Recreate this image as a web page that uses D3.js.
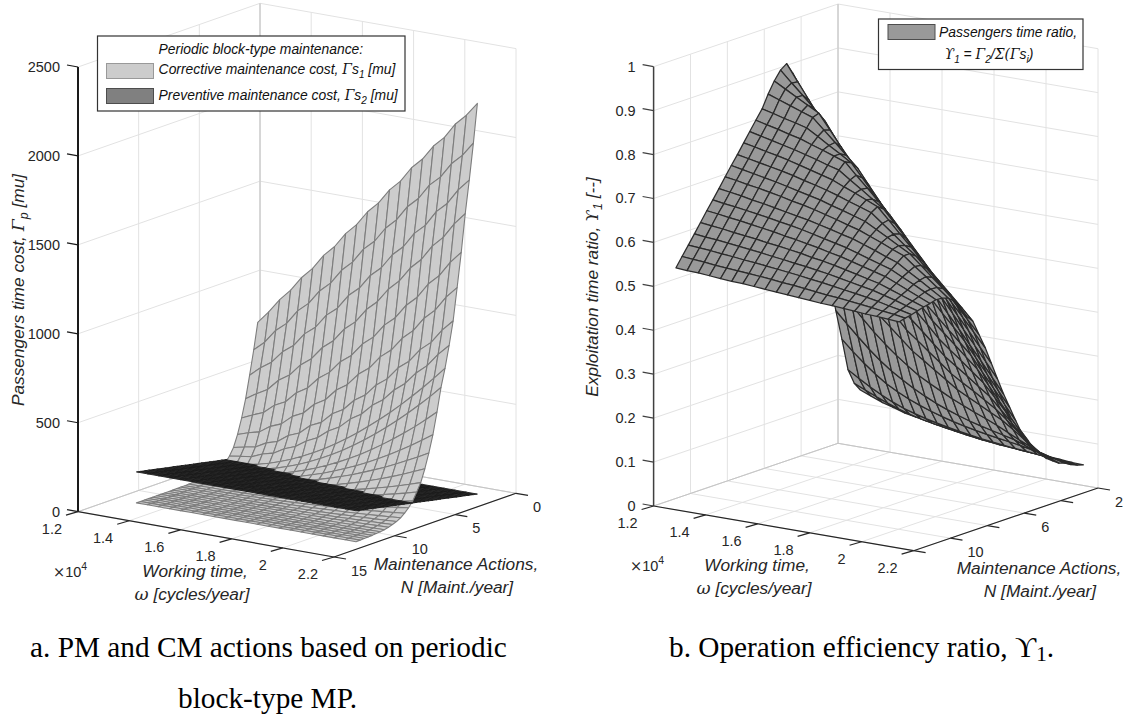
<!DOCTYPE html>
<html>
<head>
<meta charset="utf-8">
<script src="https://cdn.jsdelivr.net/npm/d3@7"></script>
<style>
    html, body {margin: 0; background: #fff;}
    text {font-family: "Liberation Sans", Arial, sans-serif; fill: #262626;}
    .caption {font-family: "Liberation Serif", serif; fill: #000;}
</style>
</head>
<body>
<svg id="chart" width="1123" height="714"></svg>
<script>
// working time samples [cycles/year] and maintenance actions [maint./year]
const workingTime = [12860, 13289, 13718, 14147, 14576, 15005, 15434, 15863, 16292, 16721, 17150, 17579, 18008, 18437, 18866, 19295, 19724, 20153, 20582, 21011, 21440];
const maintActions = [2, 2.33, 2.67, 3, 3.33, 3.67, 4, 4.33, 4.67, 5, 5.33, 5.67, 6, 6.33, 6.67, 7, 7.33, 7.67, 8, 8.33, 8.67, 9, 9.33, 9.67, 10, 10.33, 10.67, 11, 11.33, 11.67, 12];

// preventive cost only depends on N
const preventiveCost = [29, 34, 39, 44, 48, 53, 58, 63, 68, 73, 77, 82, 87, 92, 97, 102, 106, 111, 116, 121, 126, 131, 135, 140, 145, 150, 155, 160, 164, 169, 174];

// corrective cost [mu], one row per N, one column per working time
const correctiveCost = [
    [776, 846, 926, 990, 1072, 1134, 1218, 1279, 1362, 1424, 1507, 1568, 1652, 1712, 1798, 1858, 1942, 2002, 2088, 2148, 2226],
    [630, 683, 760, 811, 892, 945, 1026, 1081, 1164, 1221, 1305, 1360, 1444, 1502, 1587, 1644, 1730, 1786, 1872, 1930, 2010],
    [495, 548, 590, 659, 705, 782, 830, 909, 959, 1041, 1094, 1176, 1230, 1314, 1370, 1456, 1512, 1600, 1657, 1744, 1810],
    [370, 410, 444, 507, 547, 615, 661, 735, 784, 861, 912, 992, 1047, 1128, 1186, 1269, 1328, 1414, 1474, 1561, 1630],
    [270, 298, 323, 375, 405, 467, 504, 570, 614, 685, 731, 806, 856, 934, 987, 1068, 1124, 1209, 1267, 1352, 1420],
    [185, 206, 222, 264, 289, 342, 372, 432, 468, 534, 575, 644, 690, 764, 813, 890, 944, 1025, 1081, 1165, 1230],
    [120, 134, 145, 179, 198, 242, 267, 320, 349, 408, 443, 506, 546, 614, 659, 732, 780, 856, 908, 988, 1050],
    [80, 90, 98, 124, 140, 176, 199, 241, 270, 319, 352, 408, 446, 507, 550, 615, 663, 733, 785, 859, 920],
    [50, 53, 62, 75, 91, 112, 136, 163, 194, 228, 265, 306, 349, 396, 445, 497, 552, 610, 670, 734, 800],
    [35, 37, 43, 53, 66, 83, 103, 125, 151, 181, 213, 248, 287, 328, 373, 420, 471, 524, 580, 638, 700],
    [25, 26, 30, 37, 47, 59, 74, 92, 112, 135, 161, 190, 221, 255, 292, 332, 374, 419, 466, 517, 570],
    [17, 18, 21, 27, 34, 44, 56, 70, 86, 105, 125, 148, 173, 200, 229, 261, 294, 330, 368, 408, 450],
    [12, 13, 15, 20, 26, 34, 43, 54, 67, 82, 98, 116, 136, 157, 181, 206, 232, 261, 291, 322, 356],
    [8, 9, 10, 13, 17, 22, 29, 37, 47, 58, 70, 84, 99, 116, 134, 154, 175, 198, 222, 248, 275],
    [6, 6, 8, 10, 13, 17, 22, 28, 35, 43, 52, 63, 74, 87, 100, 115, 131, 148, 166, 185, 205],
    [4, 4, 5, 6, 9, 11, 15, 19, 25, 31, 38, 46, 55, 65, 75, 87, 99, 113, 128, 143, 160],
    [3, 3, 4, 5, 6, 8, 11, 14, 18, 23, 28, 34, 41, 48, 56, 64, 74, 83, 94, 105, 118],
    [2, 2, 3, 3, 5, 6, 8, 11, 13, 17, 21, 25, 30, 36, 42, 48, 55, 62, 70, 79, 88],
    [1, 1, 1, 2, 3, 4, 6, 8, 10, 12, 15, 18, 22, 26, 30, 35, 40, 46, 52, 58, 65],
    [1, 1, 1, 2, 2, 3, 4, 6, 7, 9, 11, 13, 16, 19, 22, 25, 29, 33, 37, 42, 47],
    [1, 1, 1, 1, 2, 2, 3, 4, 5, 6, 8, 9, 11, 13, 15, 18, 21, 24, 27, 30, 34],
    [0, 0, 0, 0, 1, 1, 2, 2, 3, 4, 5, 7, 8, 9, 11, 13, 15, 17, 20, 22, 25],
    [0, 0, 0, 0, 0, 1, 1, 2, 2, 3, 4, 5, 6, 7, 8, 9, 11, 12, 14, 16, 18],
    [0, 0, 0, 0, 0, 0, 1, 1, 1, 2, 2, 3, 4, 4, 5, 6, 7, 8, 9, 11, 12],
    [0, 0, 0, 0, 0, 0, 0, 1, 1, 1, 2, 2, 3, 3, 4, 4, 5, 5, 6, 7, 8],
    [0, 0, 0, 0, 0, 0, 0, 0, 1, 1, 1, 2, 2, 2, 3, 3, 4, 4, 5, 5, 6],
    [0, 0, 0, 0, 0, 0, 0, 0, 0, 1, 1, 1, 1, 2, 2, 2, 3, 3, 3, 4, 4],
    [0, 0, 0, 0, 0, 0, 0, 0, 0, 0, 1, 1, 1, 1, 1, 2, 2, 2, 2, 3, 3],
    [0, 0, 0, 0, 0, 0, 0, 0, 0, 0, 0, 0, 1, 1, 1, 1, 1, 1, 1, 2, 2],
    [0, 0, 0, 0, 0, 0, 0, 0, 0, 0, 0, 0, 0, 0, 0, 1, 1, 1, 1, 1, 1],
    [0, 0, 0, 0, 0, 0, 0, 0, 0, 0, 0, 0, 0, 0, 0, 0, 0, 0, 0, 0, 0]
];

// exploitation time ratio in thousandths, same row/column layout
const timeRatio = [
    [130, 120, 110, 103, 95, 90, 85, 80, 76, 72, 68, 64, 62, 60, 58, 56, 54, 52, 50, 48, 47],
    [150, 139, 128, 118, 109, 101, 95, 90, 85, 81, 77, 73, 70, 67, 65, 63, 61, 59, 57, 54, 51],
    [186, 170, 155, 142, 130, 120, 112, 105, 99, 94, 89, 85, 81, 78, 75, 72, 70, 67, 64, 60, 57],
    [260, 236, 214, 194, 176, 162, 150, 140, 131, 123, 116, 110, 105, 100, 96, 92, 88, 83, 78, 71, 65],
    [330, 304, 279, 255, 233, 214, 198, 183, 170, 158, 148, 139, 131, 124, 118, 112, 106, 97, 88, 79, 70],
    [410, 383, 356, 329, 303, 280, 259, 240, 222, 208, 195, 182, 171, 160, 150, 139, 127, 115, 104, 92, 80],
    [506, 473, 440, 407, 374, 351, 328, 305, 282, 265, 247, 230, 212, 199, 186, 173, 160, 143, 125, 108, 90],
    [600, 561, 523, 484, 445, 418, 390, 363, 335, 315, 294, 274, 253, 237, 222, 206, 190, 169, 147, 126, 104],
    [700, 655, 610, 564, 519, 487, 456, 424, 392, 368, 345, 321, 297, 279, 261, 242, 224, 198, 172, 146, 120],
    [786, 737, 688, 639, 590, 555, 519, 484, 448, 422, 395, 369, 342, 321, 301, 280, 259, 231, 202, 174, 145],
    [856, 809, 761, 714, 667, 626, 585, 543, 502, 473, 445, 416, 387, 364, 341, 318, 295, 263, 230, 198, 165],
    [904, 861, 819, 776, 733, 691, 648, 606, 563, 530, 496, 463, 429, 405, 380, 356, 331, 298, 266, 233, 200],
    [930, 893, 856, 819, 782, 742, 702, 661, 621, 585, 549, 513, 477, 450, 422, 395, 367, 334, 301, 268, 235],
    [920, 895, 871, 846, 821, 783, 745, 707, 669, 633, 597, 560, 524, 493, 463, 432, 401, 368, 336, 303, 270],
    [900, 886, 872, 858, 844, 810, 776, 743, 709, 674, 638, 603, 567, 536, 504, 473, 441, 408, 376, 343, 310],
    [875, 866, 857, 848, 839, 815, 791, 766, 742, 708, 674, 639, 605, 573, 541, 509, 477, 445, 414, 382, 350],
    [846, 840, 833, 827, 820, 805, 789, 774, 758, 728, 697, 667, 636, 605, 573, 542, 510, 480, 450, 420, 390],
    [825, 819, 813, 806, 800, 791, 783, 774, 765, 739, 714, 688, 662, 632, 601, 571, 540, 511, 483, 454, 425],
    [804, 798, 792, 786, 780, 773, 766, 758, 751, 733, 716, 698, 680, 651, 622, 592, 563, 537, 512, 486, 460],
    [783, 778, 772, 767, 761, 754, 747, 740, 733, 722, 712, 701, 690, 664, 637, 611, 584, 557, 530, 502, 475],
    [761, 756, 751, 746, 741, 735, 728, 722, 715, 707, 698, 690, 681, 661, 641, 620, 600, 575, 550, 525, 500],
    [741, 736, 731, 726, 721, 715, 709, 703, 697, 689, 682, 674, 666, 652, 638, 624, 610, 588, 565, 543, 520],
    [720, 716, 711, 707, 702, 697, 691, 686, 680, 673, 666, 658, 651, 641, 631, 620, 610, 590, 571, 551, 531],
    [698, 694, 690, 685, 681, 676, 671, 666, 661, 655, 649, 642, 636, 627, 618, 608, 599, 583, 568, 552, 536],
    [677, 673, 670, 666, 662, 658, 653, 649, 644, 638, 632, 626, 620, 612, 604, 596, 588, 575, 563, 550, 537],
    [657, 654, 650, 647, 643, 639, 635, 630, 626, 621, 616, 610, 605, 598, 591, 584, 577, 566, 555, 544, 533],
    [635, 632, 629, 625, 622, 619, 615, 612, 608, 604, 599, 595, 590, 584, 578, 572, 566, 557, 548, 539, 530],
    [614, 611, 609, 606, 603, 600, 597, 593, 590, 586, 583, 579, 575, 570, 565, 560, 555, 548, 541, 533, 526],
    [593, 591, 589, 586, 584, 581, 579, 576, 573, 570, 567, 563, 560, 556, 552, 548, 544, 539, 533, 528, 522],
    [572, 570, 568, 565, 563, 561, 559, 557, 555, 552, 550, 547, 544, 541, 539, 536, 533, 530, 526, 523, 519],
    [551, 549, 548, 546, 544, 542, 541, 539, 537, 535, 533, 531, 529, 527, 526, 524, 522, 520, 519, 517, 515]
];

// tick values
const workTicks = [12000, 14000, 16000, 18000, 20000, 22000];
const workLabels = ['1.2', '1.4', '1.6', '1.8', '2', '2.2'];
const actionTicksA = [0, 5, 10, 15];
const actionLabelsA = ['0', '5', '10', '15'];
const actionTicksB = [2, 4, 6, 8, 10, 12];
const actionLabelsB = ['2', '', '6', '', '10', ''];
const costTicks = [0, 500, 1000, 1500, 2000, 2500];
const ratioTicks = [0, 100, 200, 300, 400, 500, 600, 700, 800, 900, 1000];
const ratioLabels = ['0', '0.1', '0.2', '0.3', '0.4', '0.5', '0.6', '0.7', '0.8', '0.9', '1'];

let svg = d3.select('#chart');
svg.append('rect').attr('width', 1123).attr('height', 714).attr('fill', '#fff');

// text made of plain runs, with optional sub/superscript or serif symbol runs
function rich(sel, parts) {
    let shift = 0;
    parts.forEach(p => {
        let run = typeof p === 'string' ? {t: p} : p;
        let target = run.sub ? 4 : run.sup ? -7 : 0;
        let span = sel.append('tspan').text(run.t).attr('dy', target - shift);
        if (run.sub || run.sup) span.style('font-size', '0.72em');
        if (run.serif) span.style('font-family', '"DejaVu Serif", "Liberation Serif", serif');
        shift = target;
    });
    return sel;
}

function panel(cfg) {
    let g = svg.append('g');
    let xs = d3.scaleLinear().domain(d3.extent(cfg.xTicks)).range([0, 1]);
    let ys = d3.scaleLinear().domain(cfg.yDomain).range([0, 1]);
    let zs = d3.scaleLinear().domain(d3.extent(cfg.zTicks)).range([0, 1]);

    // oblique projection of the box: each data axis is one screen vector
    let project = (w, n, z) => {
        let tx = xs(w), ty = ys(n), tz = zs(z);
        return [cfg.ox + cfg.ex[0] * tx + cfg.ey[0] * ty,
                cfg.oy + cfg.ex[1] * tx + cfg.ey[1] * ty - cfg.ez * tz];
    };
    let seg = (a, b, stroke, width) => g.append('line')
        .attr('x1', a[0]).attr('y1', a[1]).attr('x2', b[0]).attr('y2', b[1])
        .attr('stroke', stroke).attr('stroke-width', width);

    let [x0, x1] = d3.extent(cfg.xTicks);
    let [z0, z1] = d3.extent(cfg.zTicks);
    let yFar = cfg.yDomain[1], yNear = cfg.yDomain[0];

    // grid on floor and the two walls
    cfg.xTicks.forEach(v => {
        seg(project(v, yNear, z0), project(v, yFar, z0), '#e2e2e2', 1);
        seg(project(v, yFar, z0), project(v, yFar, z1), '#e2e2e2', 1);
    });
    cfg.yTicks.forEach(v => {
        seg(project(x0, v, z0), project(x1, v, z0), '#e2e2e2', 1);
        seg(project(x0, v, z0), project(x0, v, z1), '#e2e2e2', 1);
    });
    cfg.zTicks.forEach(v => {
        seg(project(x0, yNear, v), project(x0, yFar, v), '#e2e2e2', 1);
        seg(project(x0, yFar, v), project(x1, yFar, v), '#e2e2e2', 1);
    });
    seg(project(x0, yFar, z0), project(x0, yFar, z1), '#c4c4c4', 1);
    seg(project(x0, yFar, z0), project(x0, yNear, z0), '#c4c4c4', 1);
    seg(project(x0, yFar, z0), project(x1, yFar, z0), '#c4c4c4', 1);

    // surfaces, painted far cells first; where two surfaces share a cell the lower goes first
    let outline = d3.line().curve(d3.curveLinearClosed);
    let cells = g.append('g').attr('stroke-linejoin', 'round');
    for (let j = 0; j < maintActions.length - 1; j++) {
        for (let i = 0; i < workingTime.length - 1; i++) {
            cfg.surfaces
                .map(s => ({s, mean: d3.mean([s.z(j, i), s.z(j, i + 1), s.z(j + 1, i), s.z(j + 1, i + 1)])}))
                .sort((a, b) => a.mean - b.mean)
                .forEach(({s}) => {
                    let quad = [[j, i], [j, i + 1], [j + 1, i + 1], [j + 1, i]]
                        .map(([r, c]) => project(workingTime[c], maintActions[r], s.z(r, c)));
                    cells.append('path').attr('d', outline(quad))
                        .attr('fill', s.fill).attr('stroke', s.stroke).attr('stroke-width', s.width);
                });
        }
    }

    // axis lines and ticks
    seg(project(x0, yNear, z0), project(x0, yNear, z1), cfg.axis, cfg.axisWidth);
    seg(project(x0, yNear, z0), project(x1, yNear, z0), '#262626', 1.2);
    seg(project(x1, yNear, z0), project(x1, yFar, z0), '#262626', 1.2);

    let label = (x, y, text, anchor) => g.append('text')
        .attr('x', x).attr('y', y).attr('text-anchor', anchor)
        .attr('dominant-baseline', 'central').style('font-size', '14.5px').text(text);

    cfg.zTicks.forEach((v, i) => {
        let p = project(x0, yNear, v);
        seg(p, [p[0] - 11, p[1] - 2], cfg.axis, 1.2);
        label(p[0] - 18, p[1], cfg.zLabels[i], 'end');
    });
    cfg.xTicks.forEach((v, i) => {
        let p = project(v, yNear, z0);
        seg(p, [p[0] - 12, p[1] + 3.5], '#262626', 1.2);
        label(p[0] - 16, p[1] + 17, workLabels[i], 'end');
    });
    cfg.yTicks.forEach((v, i) => {
        let p = project(x1, v, z0);
        seg(p, [p[0] + 12, p[1] + 2], '#262626', 1.2);
        label(p[0] + 17, p[1] + 13.7, cfg.yLabels[i], 'start');
    });

    // exponent of the working time axis
    let expo = g.append('text').attr('x', cfg.expo[0]).attr('y', cfg.expo[1]).style('font-size', '14.5px');
    rich(expo, [{t: '\u00d7', serif: true}, '10', {t: '4', sup: true}]);

    // axis titles
    let title = (x, y, parts, rotate) => {
        let t = g.append('text').attr('text-anchor', 'middle')
            .style('font-size', '17.3px').style('font-style', 'italic')
            .attr('transform', `translate(${x},${y})` + (rotate ? ' rotate(-90)' : ''));
        rich(t, parts);
    };
    title(cfg.xTitle[0], cfg.xTitle[1], ['Working time,']);
    title(cfg.xTitle[0] - 3, cfg.xTitle[1] + 23, [{t: '\u03c9', serif: true}, ' [cycles/year]']);
    title(cfg.yTitle[0], cfg.yTitle[1], ['Maintenance Actions,']);
    title(cfg.yTitle[0] + 1, cfg.yTitle[1] + 23, ['N [Maint./year]']);
    title(cfg.zTitle[0], cfg.zTitle[1], cfg.zTitle[2], true);
    return g;
}

panel({
    ox: 78, oy: 511.7, ex: [256, 45.3], ey: [182, -63.7], ez: 444.7,
    axis: '#1a1a1a', axisWidth: 2,
    xTicks: workTicks, yDomain: [15, 0], yTicks: actionTicksA, yLabels: actionLabelsA,
    zTicks: costTicks, zLabels: costTicks.map(String),
    expo: [53, 577], xTitle: [195, 577], yTitle: [456, 570],
    zTitle: [24, 290, ['Passengers time cost, ', {t: '\u0393', serif: true}, {t: 'p', sub: true}, ' [mu]']],
    surfaces: [
        {z: (r, c) => correctiveCost[r][c], fill: '#cccccc', stroke: '#7d7d7d', width: 1.1},
        {z: (r, c) => preventiveCost[r], fill: '#3a3a3a', stroke: '#1a1a1a', width: 0.9}
    ]
});

panel({
    ox: 653.6, oy: 506, ex: [260, 44.7], ey: [184.4, -62.7], ez: 439.3,
    axis: '#404040', axisWidth: 1.5,
    xTicks: workTicks, yDomain: [12, 2], yTicks: actionTicksB, yLabels: actionLabelsB,
    zTicks: ratioTicks, zLabels: ratioLabels,
    expo: [630, 571], xTitle: [757, 571], yTitle: [1039, 574],
    zTitle: [598, 287, ['Exploitation time ratio, ', {t: '\u03d2', serif: true}, {t: '1', sub: true}, ' [--]']],
    surfaces: [
        {z: (r, c) => timeRatio[r][c], fill: '#999999', stroke: '#2b2b2b', width: 1.25}
    ]
});

// legends
function legendBox(x, y, w, h) {
    svg.append('rect').attr('x', x).attr('y', y).attr('width', w).attr('height', h)
        .attr('fill', '#fff').attr('stroke', '#333').attr('stroke-width', 1.2);
}
function swatch(x, y, fill, stroke) {
    svg.append('rect').attr('x', x).attr('y', y).attr('width', 47).attr('height', 15)
        .attr('fill', fill).attr('stroke', stroke).attr('stroke-width', 1);
}
function legendText(x, y, anchor, parts) {
    let t = svg.append('text').attr('x', x).attr('y', y).attr('text-anchor', anchor)
        .style('font-size', '13.9px').style('font-style', 'italic').style('fill', '#111');
    rich(t, parts);
}

legendBox(97.5, 36, 307.5, 75);
legendText(158.6, 54, 'start', ['Periodic block-type maintenance:']);
swatch(106.5, 63.5, '#cccccc', '#999999');
legendText(158.6, 74, 'start', ['Corrective maintenance cost, ', {t: '\u0393', serif: true}, 's', {t: '1', sub: true}, ' [mu]']);
swatch(106.5, 88.5, '#808080', '#4d4d4d');
legendText(158.6, 100, 'start', ['Preventive maintenance cost, ', {t: '\u0393', serif: true}, 's', {t: '2', sub: true}, ' [mu]']);

legendBox(878.5, 19, 204.5, 50.5);
swatch(888, 24.5, '#999999', '#4d4d4d');
legendText(939, 37, 'start', ['Passengers time ratio,']);
legendText(989, 59, 'middle', [{t: '\u03d2', serif: true}, {t: '1', sub: true}, ' = ', {t: '\u0393', serif: true}, {t: '2', sub: true}, '/', {t: '\u03a3(\u0393', serif: true}, 's', {t: 'i', sub: true}, ')']);

// captions below the panels
let caption = (x, y, parts) => {
    let t = svg.append('text').attr('class', 'caption').attr('x', x).attr('y', y).style('font-size', '29.3px');
    rich(t, parts);
};
caption(30, 657, ['a. PM and CM actions based on periodic']);
caption(178, 708, ['block-type MP.']);
caption(669, 657, ['b. Operation efficiency ratio, ', {t: '\u03d2', sub: false}, {t: '1', sub: true}, '.']);
</script>
</body>
</html>
